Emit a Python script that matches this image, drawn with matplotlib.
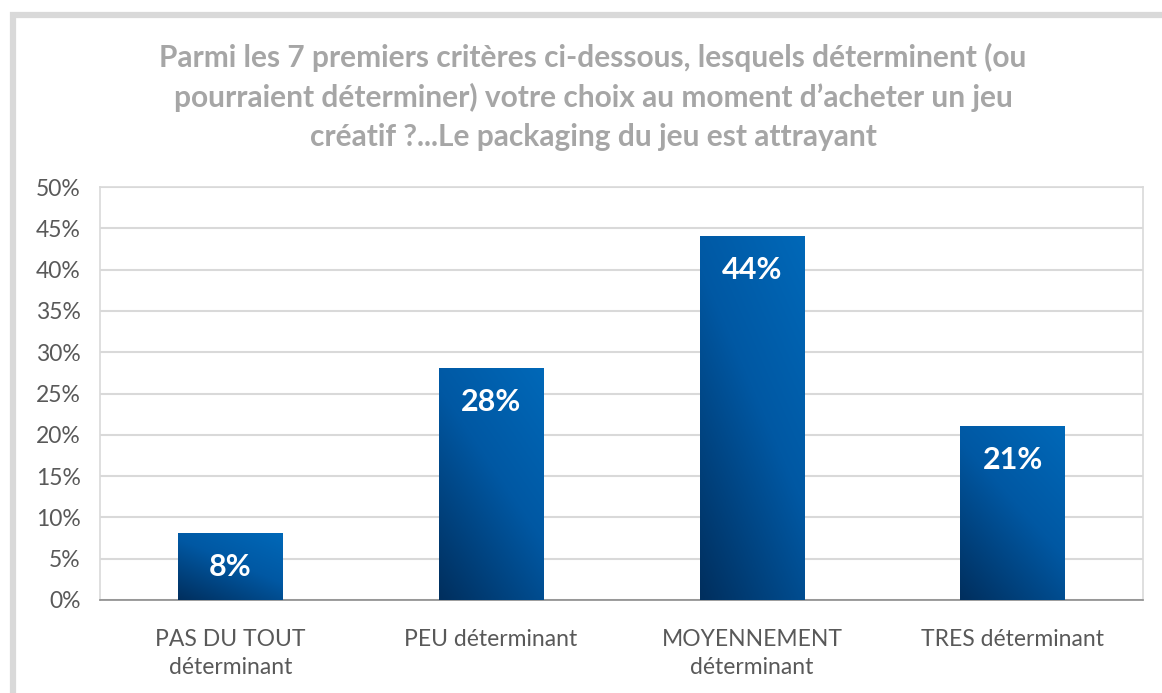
import numpy as np
import matplotlib.pyplot as plt
import matplotlib.patches as patches
from matplotlib.colors import LinearSegmentedColormap

plt.rcParams['font.family'] = ['Lato', 'DejaVu Sans']

title = ("Parmi les 7 premiers critères ci-dessous, lesquels déterminent (ou\n"
         "pourraient déterminer) votre choix au moment d’acheter un jeu\n"
         "créatif ?...Le packaging du jeu est attrayant")
categories = ["PAS DU TOUT\ndéterminant", "PEU déterminant",
              "MOYENNEMENT\ndéterminant", "TRES déterminant"]
values = [8, 28, 44, 21]
yticks = [0, 5, 10, 15, 20, 25, 30, 35, 40, 45, 50]

W, H = 1162, 693
fig = plt.figure(figsize=(W / 100, H / 100), dpi=100)

# outer grey frame of the chart area
fig.patches.append(patches.Rectangle((13 / W, -0.05), 1.2, 1 - 15 / H + 0.05,
                                     transform=fig.transFigure, fill=False,
                                     edgecolor='#d9d9d9', linewidth=4.5))

ax = fig.add_axes([100 / W, 1 - 600 / H, 1043 / W, 413 / H])

cmap = LinearSegmentedColormap.from_list(
    'bar', [(0, '#002f5e'), (0.55, '#0058a3'), (1, '#0068b8')])
gx, gy = np.meshgrid(np.linspace(0, 1, 60), np.linspace(0, 1, 60))
grad = (gx * 0.8 + gy * 1.2) / 2

x = np.arange(len(categories))
bw = 0.4
for xi, v in zip(x, values):
    ax.imshow(grad, cmap=cmap, origin='lower', aspect='auto',
              extent=(xi - bw / 2, xi + bw / 2, 0, v), zorder=3,
              interpolation='bilinear')
    ax.annotate(f"{v}%", (xi, v), xytext=(0, -24), textcoords='offset points',
                ha='center', va='center', color='white', fontsize=22,
                fontweight='bold', zorder=4)

ax.set_xlim(-0.5, len(categories) - 0.5)
ax.set_ylim(0, 50)
ax.set_yticks(yticks)
ax.set_yticklabels([f"{t}%" for t in yticks])
ax.set_xticks(x)
ax.set_xticklabels(categories, linespacing=1.4)
ax.tick_params(axis='both', length=0, labelsize=16.5, colors='#595959')
ax.tick_params(axis='x', pad=21)
ax.tick_params(axis='y', pad=14)
ax.grid(axis='y', color='#d9d9d9', linewidth=1.5, zorder=0)
ax.set_axisbelow(True)
for s in ['left', 'top', 'right']:
    ax.spines[s].set_color('#d9d9d9')
    ax.spines[s].set_linewidth(1.2)
ax.spines['bottom'].set_color('#8c8c8c')
ax.spines['bottom'].set_linewidth(1.2)

fig.text(593 / W, 1 - 97 / H, title, ha='center', va='center', fontsize=21.5,
         fontweight='bold', color='#a6a6a6', linespacing=1.45)

fig.savefig('out.png', dpi=100, facecolor='white')
